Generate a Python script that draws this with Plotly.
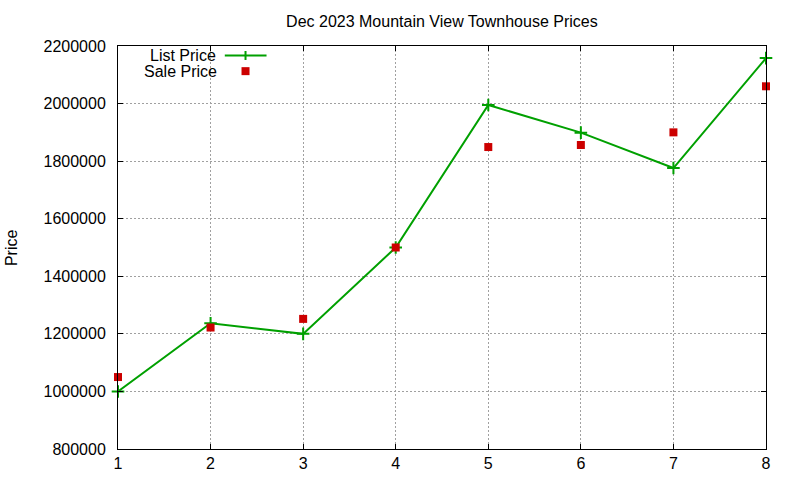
import plotly.graph_objects as go

# Dec 2023 Mountain View townhouse prices
sale_index = [1, 2, 3, 4, 5, 6, 7, 8]
list_price = [1000000, 1237000, 1200000, 1500000, 1995000, 1899000, 1776000, 2158000]
sale_price = [1050000, 1222000, 1252000, 1500000, 1849000, 1856000, 1900000, 2060000]
y_ticks = [800000, 1000000, 1200000, 1400000, 1600000, 1800000, 2000000, 2200000]

FONT = "Liberation Sans, Arial, sans-serif"
GREEN = "#00a000"
RED = "#cc0000"

# plot area in pixels (for placing the gnuplot-style key)
L, R, T, B = 118.3, 765.7, 45.5, 449.3


def px(x):
    return (x - L) / (R - L)


def py(y):
    return (B - y) / (B - T)


fig = go.Figure()
fig.add_trace(go.Scatter(x=sale_index, y=list_price, mode="lines+markers", name="List Price",
                         line=dict(color=GREEN, width=2),
                         marker=dict(symbol="cross-thin", size=9, line=dict(color=GREEN, width=2)),
                         cliponaxis=False))
fig.add_trace(go.Scatter(x=sale_index, y=sale_price, mode="markers", name="Sale Price",
                         marker=dict(symbol="square", size=8, color=RED),
                         cliponaxis=False))

axis_common = dict(showline=True, linecolor="black", linewidth=1, mirror="ticks",
                   ticks="inside", ticklen=5, tickcolor="black", tickwidth=1,
                   showgrid=True, gridcolor="#a0a0a0", griddash="2px,2px", gridwidth=1,
                   zeroline=False, automargin=False,
                   tickfont=dict(family=FONT, size=16, color="black"))

fig.update_xaxes(range=[1, 8], tickvals=sale_index, ticklabelstandoff=0, **axis_common)
fig.update_yaxes(range=[800000, 2200000], tickvals=y_ticks, tickformat="d",
                 ticklabelstandoff=8, **axis_common)

# key: text on the left, sample on the right (gnuplot style)
ky1, ky2 = 55, 70.7
sx = 245.7
fig.add_shape(type="line", xref="paper", yref="paper", x0=px(225), x1=px(266.7), y0=py(ky1), y1=py(ky1),
              line=dict(color=GREEN, width=2))
fig.add_shape(type="line", xref="paper", yref="paper", x0=px(sx), x1=px(sx), y0=py(ky1 - 4.5), y1=py(ky1 + 4.5),
              line=dict(color=GREEN, width=2))
fig.add_shape(type="rect", xref="paper", yref="paper", x0=px(sx - 4), x1=px(sx + 4), y0=py(ky2 - 4),
              y1=py(ky2 + 4), line=dict(width=0), fillcolor=RED)
fig.add_annotation(text="List Price", xref="paper", yref="paper", x=px(217), y=py(ky1), xanchor="right",
                   yanchor="middle", showarrow=False, height=14, borderpad=0,
                   font=dict(family=FONT, size=16, color="black"))
fig.add_annotation(text="Sale Price", xref="paper", yref="paper", x=px(218), y=py(ky2), xanchor="right",
                   yanchor="middle", showarrow=False, height=14, borderpad=0,
                   font=dict(family=FONT, size=16, color="black"))
fig.add_annotation(text="Price", xref="paper", yref="paper", x=px(12), y=0.5, textangle=-90,
                   xanchor="center", yanchor="middle", showarrow=False,
                   font=dict(family=FONT, size=16, color="black"))

fig.update_layout(width=800, height=480, showlegend=False,
                  title=dict(text="Dec 2023 Mountain View Townhouse Prices", x=441.9 / 800,
                             xanchor="center", y=1 - 21 / 480, yanchor="middle",
                             font=dict(family=FONT, size=16, color="black")),
                  margin=dict(l=L, r=800 - R, t=T, b=480 - B, autoexpand=False),
                  paper_bgcolor="white", plot_bgcolor="white",
                  font=dict(family=FONT, size=16, color="black"))

fig.write_html("out.html", config={"displayModeBar": False},
               post_script="document.body.style.margin='0';")
